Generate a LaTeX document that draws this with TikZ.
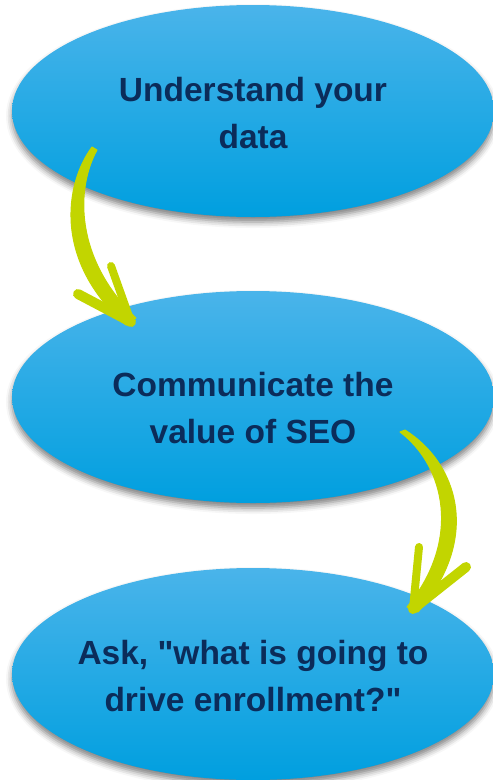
\documentclass[tikz,border=0pt]{standalone}
\usepackage{fontspec}
\setmainfont{Liberation Sans}[Ligatures=TeXOff]
\usetikzlibrary{shapes.geometric,shadows.blur}
\definecolor{navy}{HTML}{0B2C5A}
\definecolor{skytop}{HTML}{4AB4EA}
\definecolor{skybot}{HTML}{009FDF}
\definecolor{lime}{HTML}{C2D500}
\tikzset{
  stage/.style={ellipse, minimum width=482pt, minimum height=212pt, inner sep=0pt,
    top color=skytop, bottom color=skybot, draw=none,
    blur shadow={shadow xshift=0pt, shadow yshift=-5pt, shadow blur radius=6pt, shadow opacity=50}},
  caption/.style={text=navy, font=\fontsize{33.5}{47}\selectfont\bfseries, align=center, inner sep=0pt},
  shaft/.style={fill=lime, draw=lime, line width=1pt, line join=round},
  barb/.style={draw=lime, line cap=round, line width=#1},
}
\begin{document}
\begin{tikzpicture}[x=1pt,y=-1pt]
\useasboundingbox (0,0) rectangle (493,780);
\node[stage] (s1) at (253,111) {};
\node[stage] (s2) at (253,397) {};
\node[stage] (s3) at (253,674) {};
\node[caption] (c1) at (253,113) {Understand your\\data};
\node[caption] (c2) at (253,408) {Communicate the\\value of SEO};
\node[caption] (c3) at (253,676) {Ask, "what is going to\\drive enrollment?"};

% first curved arrow
\coordinate (t1) at (131,322);
\fill[shaft] (92,147) .. controls (64,185) and (54,262) .. (126,325)
  -- (136,318) .. controls (74,258) and (76,188) .. (97,150) -- cycle;
\draw[barb=8pt] (t1) -- (111,266);
\draw[barb=10pt] (t1) -- (78,294);

% second curved arrow
\coordinate (t2) at (413,609);
\fill[shaft] (400,432) .. controls (445,466) and (462,540) .. (407,607)
  -- (418,612) .. controls (481,540) and (459,464) .. (405,430) -- cycle;
\draw[barb=8pt] (t2) -- (419,547);
\draw[barb=10pt] (t2) -- (466,567);
\end{tikzpicture}
\end{document}
